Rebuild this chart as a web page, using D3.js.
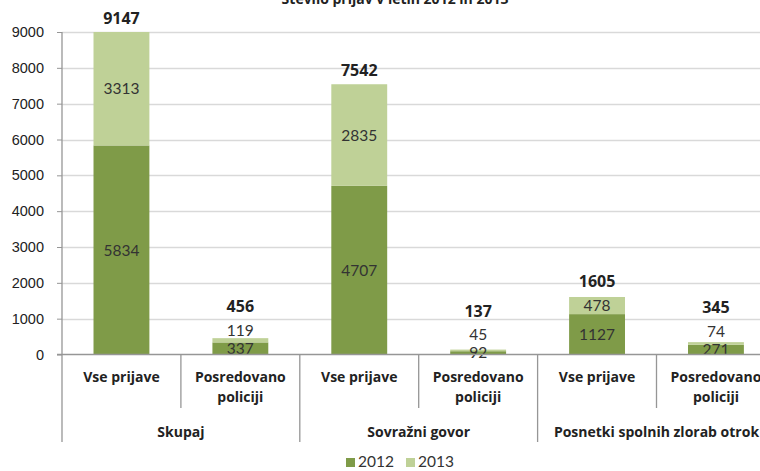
<!DOCTYPE html>
<html>
<head>
<meta charset="utf-8">
<script src="https://cdn.jsdelivr.net/npm/d3@7"></script>
<style>
  body { margin: 0; background: #fff; }
  svg { display: block; font-family: Lato, "Open Sans", sans-serif; }
  .b { font-family: "Open Sans", sans-serif; font-weight: bold; }
</style>
</head>
<body>
<svg id="chart" width="760" height="471"></svg>
<script>
// podatki
const groups = ["Skupaj", "Sovražni govor", "Posnetki spolnih zlorab otrok"];
const categories = ["Vse prijave", "Posredovano policiji"];
const values2012 = [5834, 337, 4707, 92, 1127, 271];
const values2013 = [3313, 119, 2835, 45, 478, 74];
const totals = [9147, 456, 7542, 137, 1605, 345];
const yTicks = [0, 1000, 2000, 3000, 4000, 5000, 6000, 7000, 8000, 9000];
const years = ["2012", "2013"];

const colors = { "2012": "#7f9b48", "2013": "#bfd197" };

const svg = d3.select("#chart");
const plotLeft = 62, plotBottom = 354.5, plotTop = 32;
const step = 118.9;
const bars = values2012.map((v, i) => ({
    i, group: groups[Math.floor(i / 2)], cat: categories[i % 2],
    v2012: v, v2013: values2013[i], total: totals[i]
}));

const x = d3.scaleBand()
    .domain(bars.map(d => d.i))
    .range([plotLeft, plotLeft + step * bars.length])
    .paddingInner(0.53)
    .paddingOuter(0.265);
const y = d3.scaleLinear().domain([0, 9000]).range([plotBottom, plotTop]).clamp(true);

// mreža
svg.append("g")
    .selectAll("line")
    .data(yTicks.filter(t => t > 0))
    .enter().append("line")
    .attr("x1", plotLeft).attr("x2", 760)
    .attr("y1", d => Math.round(y(d)) + 0.5).attr("y2", d => Math.round(y(d)) + 0.5)
    .attr("stroke", "#d9d9d9").attr("stroke-width", 1.3);

// y os
const yAxis = svg.append("g")
    .attr("transform", `translate(${plotLeft},0)`)
    .call(d3.axisLeft(y).tickValues(yTicks).tickFormat(d3.format("d")).tickSize(5).tickPadding(13));
yAxis.select(".domain").remove();
yAxis.selectAll(".tick line").attr("stroke", "#969696");
yAxis.selectAll(".tick text")
    .attr("font-family", "'Liberation Sans', Arial, sans-serif")
    .attr("font-size", 14.5).attr("fill", "#222");

// stolpci
const g = svg.append("g").selectAll("g").data(bars).enter().append("g");
g.append("rect")
    .attr("x", d => x(d.i)).attr("width", x.bandwidth())
    .attr("y", d => y(d.v2012)).attr("height", d => y(0) - y(d.v2012))
    .attr("fill", colors["2012"]);
g.append("rect")
    .attr("x", d => x(d.i)).attr("width", x.bandwidth())
    .attr("y", d => y(d.v2012 + d.v2013))
    .attr("height", d => y(d.v2012) - y(d.v2012 + d.v2013))
    .attr("fill", colors["2013"]);

// oznake vrednosti
bars.forEach(d => {
    d.y12 = (y(0) + y(d.v2012)) / 2;
    d.y13 = Math.min((y(d.v2012) + y(d.v2012 + d.v2013)) / 2, d.y12 - 18);
    d.yT = Math.min(y(d.v2012 + d.v2013) - 14, d.y13 - 24);
});
const cx = d => x(d.i) + x.bandwidth() / 2;
g.append("text").attr("x", cx).attr("y", d => d.y12).attr("dy", "0.36em")
    .attr("text-anchor", "middle").attr("font-size", 15.5).attr("fill", "#333")
    .text(d => d.v2012);
g.append("text").attr("x", cx).attr("y", d => d.y13).attr("dy", "0.36em")
    .attr("text-anchor", "middle").attr("font-size", 15.5).attr("fill", "#333")
    .text(d => d.v2013);
g.append("text").attr("class", "b").attr("x", cx).attr("y", d => d.yT).attr("dy", "0.36em")
    .attr("text-anchor", "middle").attr("font-size", 16).attr("fill", "#222")
    .text(d => d.total);

// kategorijska os
const axisC = "#969696";
svg.append("line").attr("x1", plotLeft - 5).attr("x2", 760)
    .attr("y1", plotBottom).attr("y2", plotBottom).attr("stroke", axisC).attr("stroke-width", 1.3);
svg.append("line").attr("x1", plotLeft).attr("x2", plotLeft)
    .attr("y1", plotTop).attr("y2", 442).attr("stroke", axisC).attr("stroke-width", 1.3);
// ločila kategorij
svg.append("g").selectAll("line")
    .data(bars.filter(d => d.i % 2 === 1))
    .enter().append("line")
    .attr("x1", d => x(d.i) - x.step() * x.paddingInner() / 2)
    .attr("x2", d => x(d.i) - x.step() * x.paddingInner() / 2)
    .attr("y1", plotBottom).attr("y2", 408).attr("stroke", axisC).attr("stroke-width", 1.3);
// ločila skupin
svg.append("g").selectAll("line")
    .data(groups.slice(1))
    .enter().append("line")
    .attr("x1", (d, k) => plotLeft + step * 2 * (k + 1))
    .attr("x2", (d, k) => plotLeft + step * 2 * (k + 1))
    .attr("y1", plotBottom).attr("y2", 442).attr("stroke", axisC).attr("stroke-width", 1.3);

// oznake kategorij
const catText = svg.append("g").selectAll("text").data(bars).enter().append("text")
    .attr("class", "b").attr("text-anchor", "middle").attr("font-size", 14).attr("fill", "#222");
catText.each(function (d) {
    const words = d.cat === "Posredovano policiji" ? ["Posredovano", "policiji"] : [d.cat];
    d3.select(this).selectAll("tspan").data(words).enter().append("tspan")
        .attr("x", cx(d)).attr("y", (w, k) => 382 + k * 20).text(w => w);
});
svg.append("g").selectAll("text").data(groups).enter().append("text")
    .attr("class", "b")
    .attr("x", (d, k) => plotLeft + step * (2 * k + 1)).attr("y", 437)
    .attr("text-anchor", "middle").attr("font-size", 14).attr("fill", "#222")
    .text(d => d);

// naslov
svg.append("text").attr("class", "b").attr("x", 395).attr("y", 4)
    .attr("text-anchor", "middle").attr("font-size", 14).attr("fill", "#222")
    .text("Število prijav v letih 2012 in 2013");

// legenda
const leg = svg.append("g").selectAll("g").data(years).enter().append("g")
    .attr("transform", (d, k) => `translate(${346 + k * 60},458)`);
leg.append("rect").attr("width", 9).attr("height", 9).attr("fill", d => colors[d]);
leg.append("text").attr("x", 12).attr("y", 9).attr("font-size", 15.5).attr("fill", "#333").text(d => d);
</script>
</body>
</html>
